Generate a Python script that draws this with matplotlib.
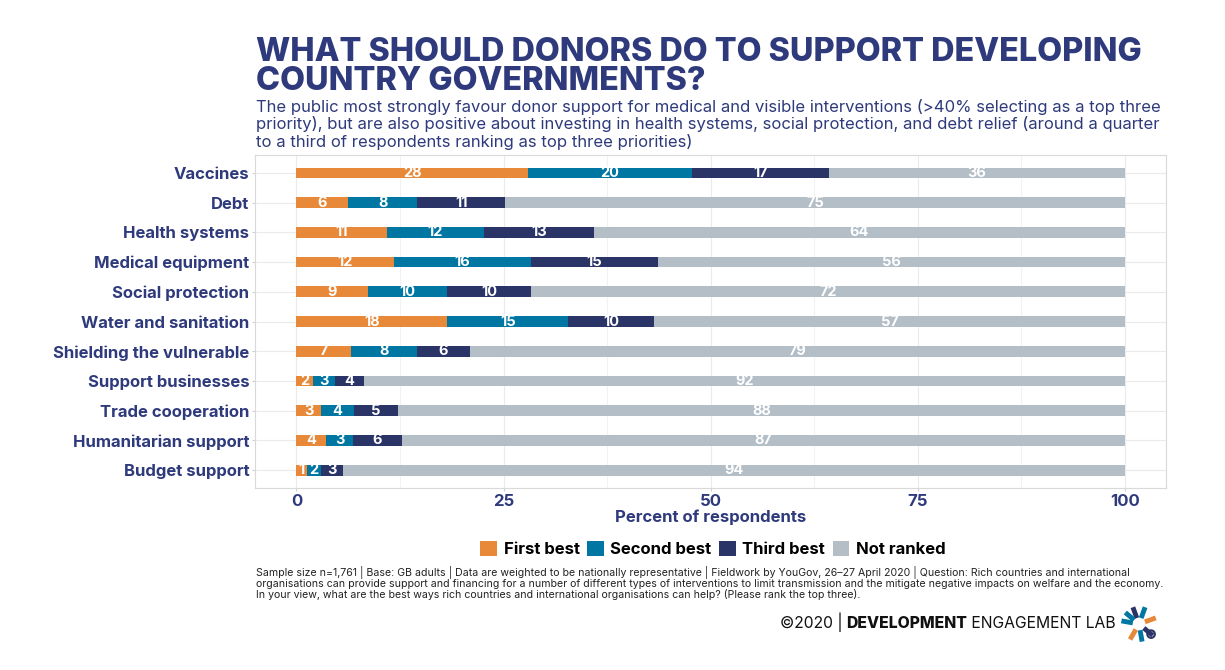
import numpy as np
import matplotlib
matplotlib.use("Agg")
from matplotlib import pyplot as plt

# data (share of respondents, %)
categories = ["Vaccines", "Debt", "Health systems", "Medical equipment", "Social protection",
              "Water and sanitation", "Shielding the vulnerable", "Support businesses",
              "Trade cooperation", "Humanitarian support", "Budget support"]
first_best = [27.9, 6.2, 10.9, 11.8, 8.6, 18.2, 6.6, 2.0, 2.9, 3.6, 1.3]
second_best = [19.8, 8.4, 11.7, 16.5, 9.6, 14.6, 7.9, 2.6, 4.1, 3.2, 1.7]
third_best = [16.6, 10.6, 13.3, 15.3, 10.1, 10.4, 6.4, 3.6, 5.2, 5.9, 2.6]
not_ranked = [35.7, 74.8, 64.1, 56.4, 71.7, 56.8, 79.1, 91.8, 87.8, 87.3, 94.4]
series_names = ["First best", "Second best", "Third best", "Not ranked"]
colors = ["#E8893A", "#0076A3", "#2B3467", "#B3BEC7"]
xticks = [0, 25, 50, 75, 100]

NAVY = "#2E3A7C"
plt.rcParams['font.family'] = ['Inter', 'DejaVu Sans']

fig = plt.figure(figsize=(12.25, 6.7), dpi=100)
ax = fig.add_axes([0.2082, 0.2716, 0.7440, 0.4970])

y = np.arange(len(categories))
left = np.zeros(len(categories))
for vals, name, col in zip([first_best, second_best, third_best, not_ranked], series_names, colors):
    vals = np.array(vals)
    ax.barh(y, vals, left=left, height=0.36, color=col, label=name, zorder=3)
    for yi, l, v in zip(y, left, vals):
        ax.text(l + v / 2, yi, f"{v:.0f}", ha="center", va="center", color="white",
                fontsize=10.5, fontweight="bold", zorder=4)
    left = left + vals

ax.set_xlim(-5, 105)
ax.set_ylim(len(categories) - 0.4, -0.6)
ax.set_yticks(y)
ax.set_yticklabels(categories, fontsize=12, fontweight="bold", color=NAVY)
ax.set_xticks(xticks)
ax.set_xticklabels([str(t) for t in xticks], fontsize=12, fontweight="bold", color=NAVY)
ax.set_xticks([12.5, 37.5, 62.5, 87.5], minor=True)
ax.tick_params(axis="both", which="major", length=2, color="#d0d0d0", pad=2)
ax.tick_params(axis="x", which="minor", length=0)
ax.grid(True, which="major", color="#ebebeb", linewidth=0.8, zorder=0)
ax.grid(True, which="minor", axis="x", color="#f2f2f2", linewidth=0.8, zorder=0)
for s in ax.spines.values():
    s.set_color("#d9d9d9")
    s.set_linewidth(0.8)
ax.set_xlabel("Percent of respondents", fontsize=12, fontweight="bold", color=NAVY, labelpad=1)

# legend
handles, labels = ax.get_legend_handles_labels()
fig.legend(handles, labels, loc="center", bbox_to_anchor=(0.582, 1 - 549 / 670), ncol=4,
           frameon=False, prop={"size": 12, "weight": "bold"}, handlelength=1.0, handleheight=1.0,
           handletextpad=0.4, columnspacing=0.45)

# titles
x0 = 256 / 1225
fig.text(x0, 1 - 61 / 670, "WHAT SHOULD DONORS DO TO SUPPORT DEVELOPING", fontsize=23.3,
         fontweight="heavy", color=NAVY, va="baseline")
fig.text(x0, 1 - 90 / 670, "COUNTRY GOVERNMENTS?", fontsize=23.3,
         fontweight="heavy", color=NAVY, va="baseline")
subtitle = ["The public most strongly favour donor support for medical and visible interventions (>40% selecting as a top three",
            "priority), but are also positive about investing in health systems, social protection, and debt relief (around a quarter",
            "to a third of respondents ranking as top three priorities)"]
for i, line in enumerate(subtitle):
    fig.text(x0, 1 - (112 + 17.5 * i) / 670, line, fontsize=12, color=NAVY, va="baseline")

footnote = ["Sample size n=1,761 | Base: GB adults | Data are weighted to be nationally representative | Fieldwork by YouGov, 26\u201327 April 2020 | Question: Rich countries and international",
            "organisations can provide support and financing for a number of different types of interventions to limit transmission and the mitigate negative impacts on welfare and the economy.",
            "In your view, what are the best ways rich countries and international organisations can help? (Please rank the top three)."]
for i, line in enumerate(footnote):
    fig.text(x0, 1 - (576 + 11 * i) / 670, line, fontsize=7.6, color="#222222", va="baseline")

# credit line, built right to left
renderer = fig.canvas.get_renderer()
xr = 1116 / 1225
yb = 1 - 628 / 670
for part, wt in [(" ENGAGEMENT LAB", "normal"), ("DEVELOPMENT", "heavy"), ("\u00a92020 | ", "normal")]:
    t = fig.text(xr, yb, part, fontsize=11.3, fontweight=wt, color="#111111", ha="right", va="baseline")
    bb = t.get_window_extent(renderer)
    xr = bb.x0 / fig.bbox.width

# rough logo
lax = fig.add_axes([1118 / 1225, 1 - 645 / 670, 42 / 1225, 42 / 670])
lax.set_xlim(-1, 1)
lax.set_ylim(-1, 1)
lax.axis("off")
spokes = [(110, "#2B3467"), (70, "#0076A3"), (20, "#E8893A"), (-40, "#2B3467"),
          (-80, "#0076A3"), (-120, "#E8893A"), (170, "#0076A3"), (140, "#0076A3")]
for ang, col in spokes:
    a = np.deg2rad(ang)
    lax.plot([0.3 * np.cos(a), 0.85 * np.cos(a)], [0.3 * np.sin(a), 0.85 * np.sin(a)],
             color=col, linewidth=3.5, solid_capstyle="butt")
lax.add_patch(plt.Circle((0.75 * np.cos(np.deg2rad(-40)), 0.75 * np.sin(np.deg2rad(-40))), 0.18,
                         fill=False, edgecolor="#2B3467", linewidth=1.5))

fig.savefig("out.png", dpi=100)
